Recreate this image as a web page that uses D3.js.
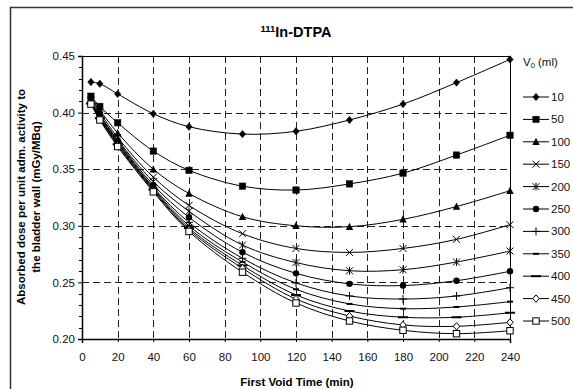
<!DOCTYPE html>
<html lang="en">
<head>
  <meta charset="utf-8">
  <title>111In-DTPA</title>
  <style>
    body { margin: 0; background: #fff; }
    svg { display: block; font-family: "Liberation Sans", Arial, sans-serif; }
  </style>
</head>
<body>
  <script src="https://cdn.jsdelivr.net/npm/d3@7/dist/d3.min.js"></script>
  <script>
    // first void times (min)
    var times = [5, 10, 20, 40, 60, 90, 120, 150, 180, 210, 240];

    // initial bladder volumes V0 (ml)
    var volumes = [10, 50, 100, 150, 200, 250, 300, 350, 400, 450, 500];

    // absorbed dose per unit activity (mGy/MBq), one array per volume
    var dose10  = [0.427, 0.4255, 0.4165, 0.399, 0.3875, 0.381, 0.3835, 0.3935, 0.4075, 0.4265, 0.447];
    var dose50  = [0.4145, 0.4055, 0.391, 0.366, 0.349, 0.335, 0.3316, 0.337, 0.3465, 0.3625, 0.380];
    var dose100 = [0.412, 0.402, 0.382, 0.350, 0.3285, 0.308, 0.300, 0.2992, 0.3057, 0.317, 0.331];
    var dose150 = [0.411, 0.400, 0.378, 0.343, 0.318, 0.293, 0.280, 0.2765, 0.280, 0.288, 0.301];
    var dose200 = [0.410, 0.398, 0.376, 0.339, 0.3128, 0.283, 0.2675, 0.2603, 0.2612, 0.268, 0.2777];
    var dose250 = [0.4095, 0.397, 0.375, 0.336, 0.3075, 0.2766, 0.258, 0.2487, 0.2472, 0.2515, 0.2598];
    var dose300 = [0.409, 0.396, 0.374, 0.334, 0.303, 0.2713, 0.2495, 0.238, 0.2353, 0.238, 0.2453];
    var dose350 = [0.4085, 0.3955, 0.373, 0.333, 0.300, 0.268, 0.2439, 0.231, 0.2268, 0.2283, 0.233];
    var dose400 = [0.408, 0.395, 0.372, 0.332, 0.298, 0.265, 0.2389, 0.2247, 0.2192, 0.2192, 0.2232];
    var dose450 = [0.408, 0.394, 0.371, 0.331, 0.2965, 0.2625, 0.2353, 0.2203, 0.2124, 0.2112, 0.2147];
    var dose500 = [0.4075, 0.3935, 0.370, 0.330, 0.295, 0.259, 0.2318, 0.2159, 0.2077, 0.2047, 0.2073];

    var doses = [dose10, dose50, dose100, dose150, dose200, dose250,
                 dose300, dose350, dose400, dose450, dose500];

    // marker kinds, same order as volumes
    var markers = ["diamond", "square", "triangle", "cross", "asterisk", "circle",
                   "plus", "dash", "longdash", "odiamond", "osquare"];

    var xTicks = [0, 20, 40, 60, 80, 100, 120, 140, 160, 180, 200, 220, 240];
    var yTicks = [0.20, 0.25, 0.30, 0.35, 0.40, 0.45];

    var W = 573, H = 389;
    var margin = { top: 56, right: 63, bottom: 50, left: 82 };
    var width = W - margin.left - margin.right;
    var height = H - margin.top - margin.bottom;

    var svg = d3.select("body").append("svg")
      .attr("width", W)
      .attr("height", H);

    // outer frame (right and bottom run off the picture)
    svg.append("rect")
      .attr("x", 10.5).attr("y", 7.5)
      .attr("width", 570).attr("height", 390)
      .attr("fill", "none")
      .attr("stroke", "#333")
      .attr("stroke-width", 1.5);

    var x = d3.scaleLinear().domain([0, 240]).range([0, width]);
    var y = d3.scaleLinear().domain([0.20, 0.45]).range([height, 0]);

    var g = svg.append("g")
      .attr("transform", "translate(" + margin.left + "," + margin.top + ")");

    // dashed grid
    g.append("g").selectAll("line")
      .data(xTicks.slice(1, -1))
      .enter().append("line")
      .attr("x1", function(d) { return Math.round(x(d)) + 0.5; })
      .attr("x2", function(d) { return Math.round(x(d)) + 0.5; })
      .attr("y1", 0).attr("y2", height)
      .attr("stroke", "#222")
      .attr("stroke-dasharray", "7,4");

    g.append("g").selectAll("line")
      .data(yTicks.slice(1, -1))
      .enter().append("line")
      .attr("y1", function(d) { return Math.round(y(d)) + 0.5; })
      .attr("y2", function(d) { return Math.round(y(d)) + 0.5; })
      .attr("x1", 0).attr("x2", width)
      .attr("stroke", "#222")
      .attr("stroke-dasharray", "7,4");

    // top and right frame of the plot
    g.append("path")
      .attr("d", "M0,0.5H" + (width + 0.5) + "V" + height)
      .attr("fill", "none")
      .attr("stroke", "#000");

    // axes
    var yAxis = g.append("g")
      .call(d3.axisLeft(y).tickValues(yTicks).tickFormat(d3.format(".2f")).tickSize(4).tickPadding(3));
    var yMinor = d3.range(0.20, 0.4501, 0.01).filter(function(v) {
      return Math.abs(v * 20 - Math.round(v * 20)) > 1e-6;
    });
    g.append("g").selectAll("line")
      .data(yMinor)
      .enter().append("line")
      .attr("x1", -3).attr("x2", 0)
      .attr("y1", function(d) { return Math.round(y(d)) + 0.5; })
      .attr("y2", function(d) { return Math.round(y(d)) + 0.5; })
      .attr("stroke", "#000");

    var xAxis = g.append("g")
      .attr("transform", "translate(0," + height + ")")
      .call(d3.axisBottom(x).tickValues(xTicks).tickSize(4).tickPadding(10));

    [yAxis, xAxis].forEach(function(a) {
      a.select(".domain").attr("stroke-width", 1.5);
      a.selectAll("text").attr("font-size", 11.5).attr("font-family", "Liberation Sans, Arial, sans-serif").attr("fill", "#111");
    });
    xAxis.selectAll(".tick line").attr("y2", 3);

    // curves
    var line = d3.line()
      .x(function(d) { return x(d[0]); })
      .y(function(d) { return y(d[1]); })
      .curve(d3.curveCatmullRom.alpha(0.5));

    function drawMarker(sel, kind) {
      var s = 3.2;
      if (kind == "diamond" || kind == "odiamond") {
        sel.append("path")
          .attr("d", "M0," + (-s - 0.5) + "L" + s + ",0L0," + (s + 0.5) + "L" + (-s) + ",0Z")
          .attr("fill", kind == "diamond" ? "#000" : "#fff")
          .attr("stroke", "#000").attr("stroke-width", kind == "diamond" ? 0.5 : 1);
      } else if (kind == "square" || kind == "osquare") {
        sel.append("rect")
          .attr("x", -s).attr("y", -s).attr("width", 2 * s).attr("height", 2 * s)
          .attr("fill", kind == "square" ? "#000" : "#fff")
          .attr("stroke", "#000").attr("stroke-width", kind == "square" ? 0.5 : 1);
      } else if (kind == "triangle") {
        sel.append("path")
          .attr("d", "M0," + (-s - 0.8) + "L" + (s + 0.5) + "," + s + "L" + (-s - 0.5) + "," + s + "Z")
          .attr("fill", "#000");
      } else if (kind == "circle") {
        sel.append("circle").attr("r", s).attr("fill", "#000");
      } else if (kind == "cross") {
        sel.append("path")
          .attr("d", "M-3.5,-3.5L3.5,3.5M-3.5,3.5L3.5,-3.5")
          .attr("stroke", "#000").attr("stroke-width", 1);
      } else if (kind == "asterisk") {
        sel.append("path")
          .attr("d", "M-3.5,-3.5L3.5,3.5M-3.5,3.5L3.5,-3.5M0,-4V4")
          .attr("stroke", "#000").attr("stroke-width", 1);
      } else if (kind == "plus") {
        sel.append("path")
          .attr("d", "M-4,0H4M0,-4V4")
          .attr("stroke", "#000").attr("stroke-width", 1);
      } else if (kind == "dash") {
        sel.append("path")
          .attr("d", "M-3,0H3")
          .attr("stroke", "#000").attr("stroke-width", 2);
      } else if (kind == "longdash") {
        sel.append("path")
          .attr("d", "M-5,0H5")
          .attr("stroke", "#000").attr("stroke-width", 2);
      }
    }

    volumes.forEach(function(v, i) {
      var pts = times.map(function(t, j) { return [t, doses[i][j]]; });
      g.append("path")
        .datum(pts)
        .attr("d", line)
        .attr("fill", "none")
        .attr("stroke", "#000")
        .attr("stroke-width", 1);

      g.append("g").selectAll("g")
        .data(pts)
        .enter().append("g")
        .attr("transform", function(d) { return "translate(" + x(d[0]) + "," + y(d[1]) + ")"; })
        .each(function() { drawMarker(d3.select(this), markers[i]); });
    });

    // legend
    var legend = svg.append("g")
      .attr("font-size", 11.5)
      .attr("fill", "#111");

    legend.append("text")
      .attr("x", 523).attr("y", 66)
      .text("V")
      .append("tspan").attr("font-size", 7.5).attr("dy", 2).text("0")
      .select(function() { return this.parentNode; })
      .append("tspan").attr("dy", -2).text(" (ml)");

    var items = legend.selectAll(".item")
      .data(volumes)
      .enter().append("g")
      .attr("class", "item")
      .attr("transform", function(d, i) { return "translate(0," + (97 + i * 22.4) + ")"; });

    items.append("line")
      .attr("x1", 523).attr("x2", 549)
      .attr("stroke", "#000");

    items.each(function(d, i) {
      var m = d3.select(this).append("g").attr("transform", "translate(536,0)");
      drawMarker(m, markers[i]);
    });

    items.append("text")
      .attr("x", 551).attr("y", 4)
      .text(function(d) { return d; });

    // title
    var title = svg.append("text")
      .attr("x", 296).attr("y", 37)
      .attr("text-anchor", "middle")
      .attr("font-weight", "bold")
      .attr("font-size", 14.5);
    title.append("tspan").attr("font-size", 9.5).attr("dy", -5).text("111");
    title.append("tspan").attr("dy", 5).text("In-DTPA");

    // axis titles
    svg.append("text")
      .attr("x", 297).attr("y", 386)
      .attr("text-anchor", "middle")
      .attr("font-weight", "bold")
      .attr("font-size", 11.5)
      .text("First Void Time (min)");

    var yl = svg.append("text")
      .attr("transform", "translate(25," + 197 + ") rotate(-90)")
      .attr("text-anchor", "middle")
      .attr("font-weight", "bold")
      .attr("font-size", 11.5);
    yl.append("tspan").attr("x", 0).attr("dy", 0).text("Absorbed dose per unit adm. activity to");
    yl.append("tspan").attr("x", 0).attr("dy", 15).text("the bladder wall (mGy/MBq)");
  </script>
</body>
</html>
